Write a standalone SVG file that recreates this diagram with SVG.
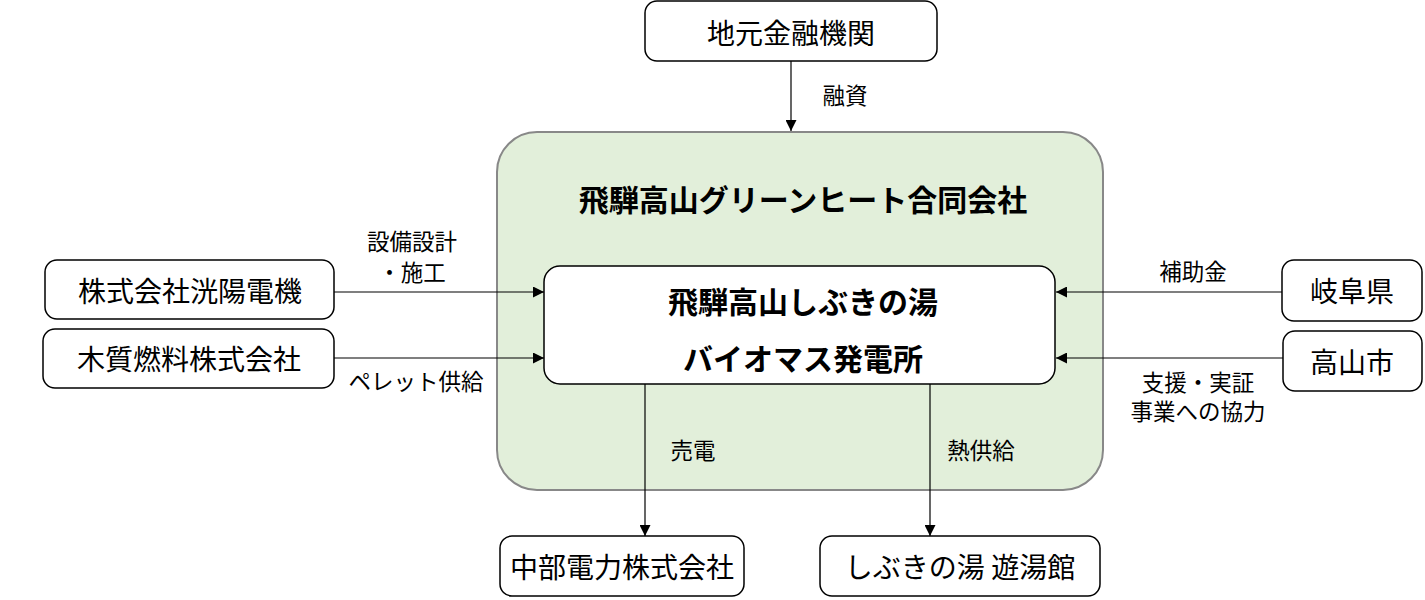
<svg xmlns="http://www.w3.org/2000/svg" width="1425" height="600" viewBox="0 0 1425 600">
<style>
text{font-family:"Noto Sans CJK JP","Noto Sans",sans-serif;fill:#000;text-anchor:middle;dominant-baseline:central}
.node{fill:#fff;stroke:#000;stroke-width:1.5}
.nt{font-size:28px}
.lb{font-size:22.5px}
.bt{font-size:30px;font-weight:bold}
.cn{stroke:#000;stroke-width:1.2;fill:none;marker-end:url(#ah)}
</style>
<defs>
<marker id="ah" viewBox="0 0 10 10" refX="10" refY="5" markerWidth="11" markerHeight="11" markerUnits="userSpaceOnUse" orient="auto">
<path d="M0,0 L10,5 L0,10 z" fill="#000"/>
</marker>
</defs>
<rect width="1425" height="600" fill="#fff"/>
<g id="company">
<rect x="497" y="132" width="606" height="358" rx="40" fill="#e2efda" stroke="#888" stroke-width="2"/>
<text class="bt" x="803" y="198">飛騨高山グリーンヒート合同会社</text>
</g>
<g id="plant">
<rect class="node" x="544" y="266" width="511" height="118" rx="16"/>
<text class="bt" x="803" y="300">飛騨高山しぶきの湯</text>
<text class="bt" x="803" y="357">バイオマス発電所</text>
</g>
<g id="bank">
<rect class="node" x="645" y="1" width="292" height="60" rx="12"/>
<text class="nt" x="791" y="32">地元金融機関</text>
</g>
<g id="kouyou">
<rect class="node" x="45" y="260" width="289" height="59" rx="12"/>
<text class="nt" x="190" y="290">株式会社洸陽電機</text>
</g>
<g id="mokushitsu">
<rect class="node" x="43" y="329" width="291" height="59" rx="12"/>
<text class="nt" x="189" y="358">木質燃料株式会社</text>
</g>
<g id="gifu">
<rect class="node" x="1282" y="260" width="140" height="61" rx="12"/>
<text class="nt" x="1352" y="290">岐阜県</text>
</g>
<g id="takayama">
<rect class="node" x="1283" y="331" width="139" height="60" rx="12"/>
<text class="nt" x="1352" y="361">高山市</text>
</g>
<g id="chubu">
<rect class="node" x="500" y="536" width="244" height="60" rx="12"/>
<text class="nt" x="622" y="566">中部電力株式会社</text>
</g>
<g id="yutoukan">
<rect class="node" x="820" y="536" width="280" height="60" rx="12"/>
<text class="nt" x="960" y="566">しぶきの湯 遊湯館</text>
</g>
<g id="connectors">
<line class="cn" x1="791" y1="61" x2="791" y2="131"/>
<line class="cn" x1="334" y1="292" x2="544" y2="292"/>
<line class="cn" x1="334" y1="358" x2="544" y2="358"/>
<line class="cn" x1="1282" y1="292" x2="1056" y2="292"/>
<line class="cn" x1="1283" y1="358" x2="1056" y2="358"/>
<line class="cn" x1="645" y1="384" x2="645" y2="536"/>
<line class="cn" x1="930" y1="384" x2="930" y2="536"/>
<text class="lb" x="845" y="94">融資</text>
<text class="lb" x="412" y="240">設備設計</text>
<text class="lb" x="412" y="271">・施工</text>
<text class="lb" x="416" y="380">ペレット供給</text>
<text class="lb" x="1193" y="270">補助金</text>
<text class="lb" x="1198" y="381">支援・実証</text>
<text class="lb" x="1198" y="410">事業への協力</text>
<text class="lb" x="693" y="449">売電</text>
<text class="lb" x="981" y="449">熱供給</text>
</g>
</svg>
